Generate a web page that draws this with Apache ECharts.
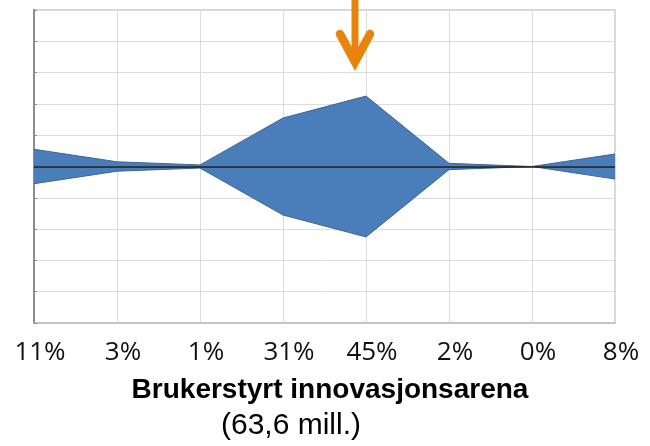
<!DOCTYPE html>
<html>
<head>
    <meta charset="utf-8"/>
    <title>Brukerstyrt innovasjonsarena</title>
    <script src="https://cdn.jsdelivr.net/npm/echarts@6/dist/echarts.min.js"></script>
    <style>
        html, body { margin: 0; padding: 0; background: #fff; }
    </style>
</head>
<body>
<div id="main" style="width: 650px;height:446px;"></div>
<script type="text/javascript">
    // andel per kategori (prosent), leses av figuren
    var categories = ['11%', '3%', '1%', '31%', '45%', '2%', '0%', '8%'];
    var shares = [11, 3, 1, 31, 45, 2, 0, 8];
    var yTicks = [-50, 50, 10];   // min, max, intervall
    var title = 'Brukerstyrt innovasjonsarena';
    var subTitle = '(63,6 mill.)';

    // symmetrisk form: halve andelen over og under nulllinjen
    var upper = shares.map(function (v) { return v / 2; });
    var lower = shares.map(function (v) { return -v / 2; });

    var myChart = echarts.init(document.getElementById('main'));

    var fill = '#4a7ebb';
    var edge = '#3b6596';

    var option = {
        animation: false,
        grid: {
            left: 34, right: 35, top: 10, bottom: 123,
            show: true, borderColor: '#c8c8c8', borderWidth: 1.5
        },
        xAxis: {
            type: 'category',
            data: categories,
            boundaryGap: false,
            axisLine: { onZero: false, lineStyle: { color: '#bdbdbd', width: 1.5 } },
            axisTick: { show: false },
            splitLine: { show: true, lineStyle: { color: '#dcdcdc', width: 1 } },
            axisLabel: {
                margin: 17,
                color: '#111',
                fontFamily: 'Open Sans',
                fontSize: 26,
                padding: [0, 0, 0, 12]
            }
        },
        yAxis: {
            type: 'value',
            min: yTicks[0],
            max: yTicks[1],
            interval: yTicks[2],
            axisLine: { show: true, lineStyle: { color: '#8c8c8c', width: 2 } },
            axisTick: { show: true, inside: true, length: 3, lineStyle: { color: '#8c8c8c' } },
            axisLabel: { show: false },
            splitLine: { show: true, lineStyle: { color: '#dcdcdc', width: 1 } }
        },
        series: [
            {
                type: 'line',
                data: upper,
                symbol: 'none',
                lineStyle: { color: edge, width: 1 },
                areaStyle: { color: fill, opacity: 1 },
                markLine: {
                    silent: true,
                    symbol: 'none',
                    label: { show: false },
                    lineStyle: { color: '#1c1c1c', width: 1.5, type: 'solid' },
                    data: [{ yAxis: 0 }]
                },
                z: 2
            },
            {
                type: 'line',
                data: lower,
                symbol: 'none',
                lineStyle: { color: edge, width: 1 },
                areaStyle: { color: fill, opacity: 1 },
                z: 2
            }
        ],
        graphic: [
            {
                // oransje pil mot 45 %
                type: 'polyline',
                shape: { points: [[355, -4], [355, 60]] },
                style: { stroke: '#e8830e', lineWidth: 7, fill: null },
                z: 10
            },
            {
                type: 'polyline',
                shape: { points: [[340, 34], [355, 62], [370, 34]] },
                style: { stroke: '#e8830e', lineWidth: 8.5, lineCap: 'round', lineJoin: 'miter', fill: null },
                z: 10
            },
            {
                type: 'text',
                x: 330, y: 376,
                style: {
                    text: title,
                    textAlign: 'center',
                    textVerticalAlign: 'top',
                    fontFamily: 'Liberation Sans',
                    fontWeight: 'bold',
                    fontSize: 28,
                    fill: '#000'
                }
            },
            {
                type: 'text',
                x: 291, y: 411,
                style: {
                    text: subTitle,
                    textAlign: 'center',
                    textVerticalAlign: 'top',
                    fontFamily: 'Liberation Sans',
                    fontSize: 30,
                    fill: '#000'
                }
            }
        ]
    };

    myChart.setOption(option);
</script>
</body>
</html>
